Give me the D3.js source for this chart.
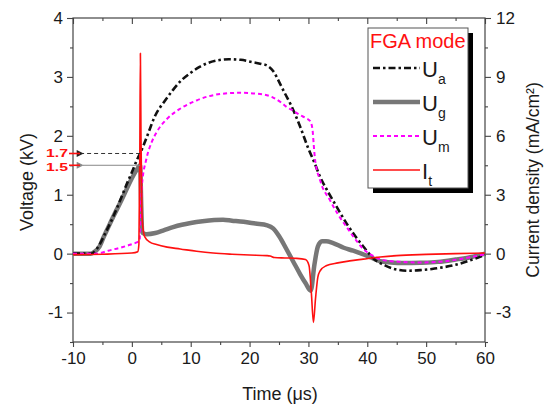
<!DOCTYPE html>
<html><head><meta charset="utf-8">
<script src="https://cdn.jsdelivr.net/npm/d3@7"></script>
<style>
html,body{margin:0;padding:0;background:#fff;}
svg{display:block;font-family:"Liberation Sans",Arial,sans-serif;}
</style></head><body>
<svg id="chart" width="544" height="408"></svg>
<script>
// Tick values
const timeTicks = [-10, 0, 10, 20, 30, 40, 50, 60];
const timeMinor = [-5, 5, 15, 25, 35, 45, 55];
const voltTicks = [-1, 0, 1, 2, 3, 4];
const voltMinor = [-1.5, -0.5, 0.5, 1.5, 2.5, 3.5];
const currTicks = [-3, 0, 3, 6, 9, 12];
const currMinor = [-4.5, -1.5, 1.5, 4.5, 7.5, 10.5];

// Anode voltage U_a (kV)
const uaTime = [-10, -7, -6.5, -5.5, -4.5, -3.2, -2, -1, 0, 1, 1.4, 2.5, 4, 5.5, 7, 8.5, 10, 11.5, 13, 14.5, 16.5, 18.5, 20.5, 22, 23, 24, 25, 26, 27, 28.5, 30, 31, 32, 33.5, 35, 36.5, 38, 39.5, 41, 43, 45, 47, 49, 51, 53, 55, 57, 58.5, 60];
const uaVolt = [0, 0, 0.02, 0.15, 0.35, 0.62, 0.9, 1.15, 1.38, 1.62, 1.7, 1.97, 2.35, 2.58, 2.78, 2.95, 3.07, 3.17, 3.24, 3.28, 3.30, 3.29, 3.25, 3.22, 3.19, 3.1, 2.92, 2.72, 2.53, 2.18, 1.78, 1.55, 1.3, 1.02, 0.76, 0.51, 0.29, 0.1, -0.08, -0.2, -0.27, -0.29, -0.28, -0.26, -0.23, -0.19, -0.13, -0.08, -0.02];

// Grid voltage U_g (kV)
const ugTime = [-10, -7, -6.5, -5.5, -4.8, -4, -3, -2, -1, 0, 1, 1.4, 1.6, 1.75, 2.5, 4, 5.5, 7, 8.5, 10, 12, 14, 15.5, 17, 19, 21, 23, 24, 25, 26.3, 27.5, 28.6, 29.5, 30.4, 31, 31.6, 32.3, 33, 34.2, 36, 37.6, 39, 40.5, 42.2, 44, 46, 49, 52, 55, 57.5, 60];
const ugVolt = [0, 0, 0.02, 0.12, 0.28, 0.45, 0.66, 0.86, 1.07, 1.28, 1.45, 1.5, 0.8, 0.36, 0.33, 0.35, 0.40, 0.45, 0.49, 0.52, 0.55, 0.57, 0.575, 0.56, 0.54, 0.51, 0.48, 0.43, 0.3, 0.07, -0.15, -0.35, -0.5, -0.63, -0.2, 0.12, 0.21, 0.21, 0.18, 0.1, 0.05, 0, -0.06, -0.13, -0.15, -0.16, -0.155, -0.14, -0.1, -0.06, 0];

// Mesh voltage U_m (kV)
const umTime = [-10, -6, -5, -4, -2, -0.3, 0.8, 1.3, 1.5, 1.7, 2.5, 3.4, 4.2, 5.9, 8.2, 11, 13, 15, 18.4, 21.8, 24, 25.3, 26.3, 27.5, 28.6, 29.6, 30.3, 30.7, 30.9, 31.1, 32, 33.7, 35, 36.5, 38, 39.3, 41, 43.3, 46, 49, 52, 54.6, 57, 60];
const umVolt = [0, 0, 0.02, 0.05, 0.1, 0.15, 0.19, 0.22, 0.7, 1.15, 1.62, 1.9, 2.06, 2.28, 2.46, 2.6, 2.67, 2.71, 2.73, 2.71, 2.65, 2.57, 2.49, 2.42, 2.35, 2.3, 2.25, 2.1, 1.85, 1.62, 1.24, 0.9, 0.67, 0.45, 0.24, 0.08, -0.04, -0.12, -0.14, -0.15, -0.14, -0.11, -0.07, -0.01];

// Target current density I_t (mA/cm²)
const itTime = [-10, -5, 0, 1.0, 1.2, 1.35, 1.45, 1.55, 1.7, 1.85, 2.2, 3, 4.2, 6, 8.2, 11, 13.8, 17, 20, 22.9, 23.5, 24.2, 26, 28, 29.5, 30.1, 30.5, 30.85, 31.2, 31.6, 32, 33, 35, 37, 39.3, 42.2, 45, 50, 55, 60];
const itCurr = [-0.05, -0.03, 0.03, 0.1, 0.5, 5, 10.2, 6, 2.2, 1.4, 0.85, 0.6, 0.46, 0.33, 0.24, 0.12, 0.03, -0.03, -0.07, -0.1, -0.12, -0.2, -0.22, -0.24, -0.3, -0.6, -2.0, -3.5, -2.3, -1.2, -0.87, -0.62, -0.47, -0.37, -0.28, -0.17, -0.1, -0.04, 0, 0.03];

// Breakdown voltages marked on the left axis
const breakdownTime = 1.4;
const markUa = 1.7;
const markUg = 1.5;

const svg = d3.select("#chart");
const L = 73, R = 485, T = 18, B = 342;

const x = d3.scaleLinear().domain([-10, 60]).range([L, R]);
const yV = d3.scaleLinear().domain([-1.5, 4]).range([B, T]);
const yI = d3.scaleLinear().domain([-4.5, 12]).range([B, T]);

const axisColor = "#444";
const labelColor = "#1a1a1a";
const plain = d => String(d);

function styleAxis(g) {
  g.select(".domain").remove();
  g.selectAll(".tick line").attr("stroke", axisColor).attr("stroke-width", 1.1);
  g.selectAll(".tick text").attr("fill", labelColor).style("font-size", "17px")
    .style("font-family", "'Liberation Sans', Arial, sans-serif");
}

// bottom axis
svg.append("g").attr("transform", `translate(0,${B})`)
  .call(d3.axisBottom(x).tickValues(timeTicks).tickSize(5).tickPadding(5).tickFormat(plain))
  .call(styleAxis);
svg.append("g").attr("transform", `translate(0,${B})`)
  .call(d3.axisBottom(x).tickValues(timeMinor).tickSize(3).tickFormat(""))
  .call(styleAxis);
// top axis, ticks pointing inward
svg.append("g").attr("transform", `translate(0,${T})`)
  .call(d3.axisBottom(x).tickValues(timeTicks).tickSize(6).tickFormat(""))
  .call(styleAxis);
svg.append("g").attr("transform", `translate(0,${T})`)
  .call(d3.axisBottom(x).tickValues(timeMinor).tickSize(3).tickFormat(""))
  .call(styleAxis);
// left axis
svg.append("g").attr("transform", `translate(${L},0)`)
  .call(d3.axisLeft(yV).tickValues(voltTicks).tickSize(6).tickPadding(4).tickFormat(plain))
  .call(styleAxis);
svg.append("g").attr("transform", `translate(${L},0)`)
  .call(d3.axisLeft(yV).tickValues(voltMinor).tickSize(3).tickFormat(""))
  .call(styleAxis);
// right axis
svg.append("g").attr("transform", `translate(${R},0)`)
  .call(d3.axisRight(yI).tickValues(currTicks).tickSize(6).tickPadding(5).tickFormat(plain))
  .call(styleAxis);
svg.append("g").attr("transform", `translate(${R},0)`)
  .call(d3.axisRight(yI).tickValues(currMinor).tickSize(3).tickFormat(""))
  .call(styleAxis);

// frame
svg.append("rect").attr("x", L).attr("y", T).attr("width", R - L).attr("height", B - T)
  .attr("fill", "none").attr("stroke", axisColor).attr("stroke-width", 1.2);

// axis titles
svg.append("text").attr("x", 280).attr("y", 400).attr("text-anchor", "middle")
  .attr("fill", labelColor).style("font-size", "18px").text("Time (μs)");
svg.append("text").attr("transform", "translate(33,182) rotate(-90)").attr("text-anchor", "middle")
  .attr("fill", labelColor).style("font-size", "18px").text("Voltage (kV)");
svg.append("text").attr("transform", "translate(539,180) rotate(-90)").attr("text-anchor", "middle")
  .attr("fill", labelColor).style("font-size", "17.5px").text("Current density (mA/cm²)");

// series
const zip = (ts, vs) => ts.map((t, i) => [t, vs[i]]);
const lineV = d3.line().x(d => x(d[0])).y(d => yV(d[1])).curve(d3.curveMonotoneX);
const lineI = d3.line().x(d => x(d[0])).y(d => yI(d[1])).curve(d3.curveMonotoneX);

const styles = {
  ug: {stroke: "#777", width: 4.5, dash: null},
  ua: {stroke: "#111", width: 2.6, dash: "7,3,2.5,3"},
  um: {stroke: "#ff00ff", width: 2, dash: "4,3"},
  it: {stroke: "#ff1010", width: 1.6, dash: null}
};

function drawPath(data, gen, st) {
  svg.append("path").datum(data).attr("d", gen).attr("fill", "none")
    .attr("stroke", st.stroke).attr("stroke-width", st.width)
    .attr("stroke-dasharray", st.dash).attr("stroke-linejoin", "round");
}
drawPath(zip(ugTime, ugVolt), lineV, styles.ug);
drawPath(zip(uaTime, uaVolt), lineV, styles.ua);
drawPath(zip(umTime, umVolt), lineV, styles.um);
drawPath(zip(itTime, itCurr), lineI, styles.it);

// breakdown markers
const defs = svg.append("defs");
function marker(id, color) {
  defs.append("marker").attr("id", id).attr("viewBox", "0 0 10 10").attr("refX", 1).attr("refY", 5)
    .attr("markerWidth", 8).attr("markerHeight", 7).attr("markerUnits", "userSpaceOnUse").attr("orient", "auto")
    .append("path").attr("d", "M10,0 L0,5 L10,10 Z").attr("fill", color);
}
marker("arrBlack", "#222");
marker("arrGray", "#888");
const arrowEnd = -8.3;
svg.append("line").attr("x1", x(breakdownTime)).attr("x2", x(arrowEnd))
  .attr("y1", yV(markUa)).attr("y2", yV(markUa))
  .attr("stroke", "#333").attr("stroke-width", 1).attr("stroke-dasharray", "4,3")
  .attr("marker-end", "url(#arrBlack)");
svg.append("line").attr("x1", x(breakdownTime)).attr("x2", x(arrowEnd))
  .attr("y1", yV(markUg)).attr("y2", yV(markUg))
  .attr("stroke", "#888").attr("stroke-width", 1)
  .attr("marker-end", "url(#arrGray)");
[[markUa, 4], [markUg, 5.3]].forEach(([v, off]) => {
  svg.append("line").attr("x1", 69).attr("x2", 80).attr("y1", yV(v)).attr("y2", yV(v))
    .attr("stroke", "#ff1010").attr("stroke-width", 1.6);
  svg.append("text").attr("x", 68).attr("y", yV(v) + off).attr("text-anchor", "end")
    .attr("fill", "#ff1010").style("font-size", "11px").style("font-weight", "bold")
    .attr("textLength", 22).attr("lengthAdjust", "spacingAndGlyphs")
    .text(d3.format(".1f")(v));
});

// legend
const lg = svg.append("g");
const lx = 368, ly = 28, lw = 100, lh = 160;
lg.append("rect").attr("x", lx + 5).attr("y", ly + 5).attr("width", lw).attr("height", lh).attr("fill", "#000");
lg.append("rect").attr("x", lx).attr("y", ly).attr("width", lw).attr("height", lh)
  .attr("fill", "#fff").attr("stroke", "#555").attr("stroke-width", 1);
lg.append("text").attr("x", lx + 2).attr("y", ly + 20).attr("fill", "#ff1010")
  .style("font-size", "20px").text("FGA mode");
const legendItems = [
  {key: "ua", main: "U", sub: "a"},
  {key: "ug", main: "U", sub: "g"},
  {key: "um", main: "U", sub: "m"},
  {key: "it", main: "I", sub: "t"}
];
legendItems.forEach((it, i) => {
  const cy = 68 + i * 34;
  const st = styles[it.key];
  lg.append("line").attr("x1", 373).attr("x2", 420).attr("y1", cy).attr("y2", cy)
    .attr("stroke", st.stroke).attr("stroke-width", st.width).attr("stroke-dasharray", st.dash);
  const t = lg.append("text").attr("x", 422).attr("y", cy + 9).attr("fill", labelColor).style("font-size", "22px");
  t.append("tspan").text(it.main);
  t.append("tspan").attr("dy", 7).style("font-size", "14px").text(it.sub);
});
</script>
</body></html>
